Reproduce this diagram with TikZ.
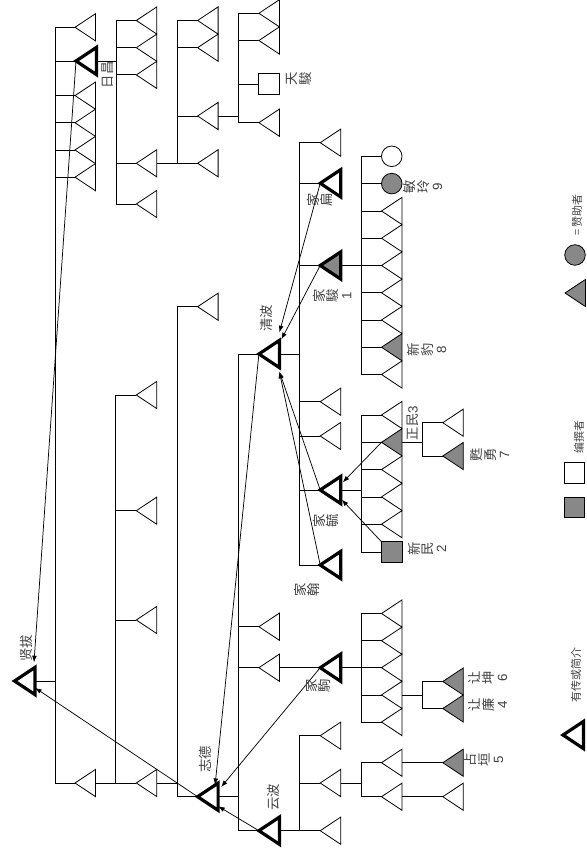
\documentclass[tikz,border=0pt]{standalone}
\usepackage{fontspec}
\newfontfamily\cjk{Noto Sans CJK SC}
\newfontfamily\lsans{Liberation Sans}
\usetikzlibrary{arrows.meta,calc}
\definecolor{figgray}{RGB}{136,136,136}
\newcommand\tri[4][]{%
  \draw[ln,#1] (#3,#4) -- (#3+20.5,#4-13.6) -- (#3+20.5,#4+13.6) -- cycle;
  \coordinate (#2) at (#3,#4);
  \coordinate (#2-b) at (#3+20.5,#4);
  \coordinate (#2-t) at (#3+20.5,#4-13.6);
  \coordinate (#2-u) at (#3+20.5,#4+13.6);}
\newcommand\pcirc[4][]{%
  \node[circle,draw,ln,minimum size=15.4pt,inner sep=0pt,#1] (#2-n) at (#3,#4) {};
  \coordinate (#2) at (#2-n.west);}
\newcommand\psq[4][]{%
  \node[draw,ln,minimum size=15.4pt,inner sep=0pt,#1] (#2-n) at (#3,#4) {};
  \coordinate (#2) at (#2-n.west);}
\newcommand\kids[2]{\foreach \ch in {#2}{\draw[ln] (#1-b) -- ++(20.3,0) |- (\ch);}}
\begin{document}
\begin{tikzpicture}[x=0.75pt,y=-0.75pt,
  ln/.style={line width=0.6pt},
  bold/.style={line width=2.4pt},
  gf/.style={fill=figgray},
  arr/.style={line width=0.55pt,-{Latex[length=5pt,width=3.6pt]}},
  lab/.style={rotate=90,inner sep=0pt,align=center,text=black!75,
    font=\cjk\fontsize{10}{10.2}\selectfont},
  leg/.style={rotate=90,inner sep=0pt,text=black!75,
    font=\cjk\fontsize{8.2}{9}\selectfont}]
\useasboundingbox (0,0) rectangle (586,855);
\clip (0,0) rectangle (586,855);
% generation 1
\tri[bold]{XB}{14.5}{681}
% generation 2
\tri{A1}{75}{27.3}
\tri[bold]{RC}{76}{61}
\tri{A3}{75}{95.6}
\tri{A4}{75}{122.8}
\tri{A5}{75}{150}
\tri{A6}{75}{177.2}
\tri{A7}{75}{783}
% generation 3
\tri{B1}{136.3}{20.5}
\tri{B2}{136.3}{47.7}
\tri{B3}{136.3}{74.9}
\tri{B4}{136.3}{163.3}
\tri{B5}{136.3}{204}
\tri{B6}{136.3}{395}
\tri{B7}{136.3}{510.7}
\tri{B8}{136.3}{620}
\tri{B9}{136.3}{783}
% generation 4
\tri{C1}{197.6}{20.5}
\tri{C2}{197.6}{47.7}
\tri{C3}{197.6}{116}
\tri{C4}{197.6}{163.3}
\tri{C5}{197.6}{306.7}
\tri[bold]{ZD}{197.6}{796.7}
% generation 5
\tri{D1}{258.9}{13.3}
\tri{D2}{258.9}{40.5}
\psq{TJ}{269.15}{84}
\tri{D4}{258.9}{122.7}
\tri[bold]{QB}{258.9}{354}
\tri{D5}{258.9}{626.7}
\tri{D6}{258.9}{667.7}
\tri[bold]{YB}{258.9}{830.7}
% generation 6
\tri{E1}{320.2}{142.7}
\tri[bold]{JB}{320.2}{183.3}
\tri[bold,gf]{JJ}{320.2}{265.5}
\tri{E2}{320.2}{401.7}
\tri{E3}{320.2}{436}
\tri[bold]{JY}{320.2}{490}
\tri[bold]{JH}{320.2}{565}
\tri[bold]{JU}{320.2}{667.7}
\tri{E4}{320.2}{735.7}
\tri{E5}{320.2}{783}
\tri{E6}{320.2}{830.7}
% generation 7
\pcirc{W1}{391.75}{156.3}
\pcirc[gf]{ML}{391.75}{183.6}
\tri{F1}{381.5}{211}
\tri{F2}{381.5}{238.25}
\tri{F3}{381.5}{265.5}
\tri{F4}{381.5}{292.75}
\tri{F5}{381.5}{320}
\tri[gf]{XP}{381.5}{347.25}
\tri{F6}{381.5}{374.5}
\tri{G1}{381.5}{415}
\tri[gf]{ZM}{381.5}{442.3}
\tri{G2}{381.5}{469.6}
\tri{G3}{381.5}{496.9}
\tri{G4}{381.5}{524.2}
\psq[gf]{XM}{391.75}{552}
\tri{H1}{381.5}{613.5}
\tri{H2}{381.5}{640.7}
\tri{H3}{381.5}{667.7}
\tri{H4}{381.5}{694.9}
\tri{H5}{381.5}{722}
\tri{H6}{381.5}{762.7}
\tri{H7}{381.5}{796.7}
% generation 8
\tri{I1}{442.8}{422.7}
\tri[gf]{SY}{442.8}{456}
\tri[gf]{RK}{442.8}{681.5}
\tri[gf]{RL}{442.8}{708.5}
\tri[gf]{ZY}{442.8}{762.7}
\tri{I2}{442.8}{796.7}
% descent lines
\kids{XB}{A1,RC,A3,A4,A5,A6,A7}
\kids{RC}{B1,B2,B3,B4,B5}
\kids{A7}{B6,B7,B8,B9}
\kids{B4}{C1,C2,C3,C4}
\kids{B9}{C5,ZD}
\kids{C3}{D1,D2,TJ,D4}
\kids{ZD}{QB,D5,D6,YB}
\kids{QB}{E1,JB,JJ,E2,E3,JY,JH}
\kids{D6}{JU}
\kids{YB}{E4,E5,E6}
\kids{JJ}{W1,ML,F1,F2,F3,F4,F5,XP,F6}
\kids{JY}{G1,ZM,G2,G3,G4,XM}
\kids{JU}{H1,H2,H3,H4,H5}
\kids{E5}{H6,H7}
\kids{ZM}{I1,SY}
\kids{H4}{RK,RL}
\kids{H6}{ZY}
\kids{H7}{I2}
% arrows
\draw[arr] (RC) -- ($(XB-t)+(-1,-5)$);
\draw[arr] (ZD) -- ($(XB-b)!0.5!(XB-u)$);
\draw[arr] (QB) -- ($(ZD-t)+(-3,2)$);
\draw[arr] (JU) -- ($(ZD-t)+(3,4)$);
\draw[arr] (YB) -- ($(ZD-b)!0.7!(ZD-u)$);
\draw[arr] (JB) -- ($(QB-t)+(0,-8)$);
\draw[arr] (JJ) -- ($(QB-t)+(2,-1)$);
\draw[arr] (JY) -- ($(QB-u)+(0,4)$);
\draw[arr] (JH) -- ($(QB-u)+(0,4)$);
\draw[arr] (ZM) -- ($(JY-t)+(2,6)$);
\draw[arr] (XM-n.north west) -- ($(JY-u)+(1,-4)$);
% labels
\node[lab] (lXB) at (26,648) {贤拔};
\node[lab] (lRC) at (108,75) {日昌};
\node[lab] (lTJ) at (299,79) {天\\駿};
\node[lab] (lQB) at (266,318) {清波};
\node[lab] (lZD) at (205,759) {志德};
\node[lab] (lYB) at (273,797) {云波};
\node[lab] (lJB) at (320,200) {家\\扁};
\node[lab] (lJJ) at (332,296) {家\\駿\\{\lsans 1}};
\node[lab] (lML) at (423,187) {敏\\玲\\{\lsans 9}};
\node[lab] (lXP) at (427,350) {新\\豹\\{\lsans 8}};
\node[lab] (lJY) at (326,521) {家\\毓};
\node[lab] (lJH) at (307,590) {家\\翰};
\node[lab] (lXM) at (427,549) {新\\民\\{\lsans 2}};
\node[lab] (lZM) at (413,423) {正民{\lsans 3}};
\node[lab] (lSY) at (490,455) {甦\\勇\\{\lsans 7}};
\node[lab] (lJU) at (318,686) {家\\駒};
\node[lab] (lRK) at (488,678) {让\\坤\\{\lsans 6}};
\node[lab] (lRL) at (488,705) {让\\廉\\{\lsans 4}};
\node[lab] (lZY) at (484,760) {占\\垣\\{\lsans 5}};
% legend
\tri[bold]{LT}{563}{735}
\node[leg] (lLT) at (576,675) {有传或简介};
\psq{LW}{574.5}{473}
\psq[gf]{LS}{574.5}{507.5}
\node[leg] (lLS) at (579,437) {编撰者};
\tri[gf]{LG}{565}{293}
\pcirc[gf]{LC}{575}{255}
\node[leg] (lLC) at (577,215) {={\kern1pt}赞助者};
\end{tikzpicture}
\end{document}
